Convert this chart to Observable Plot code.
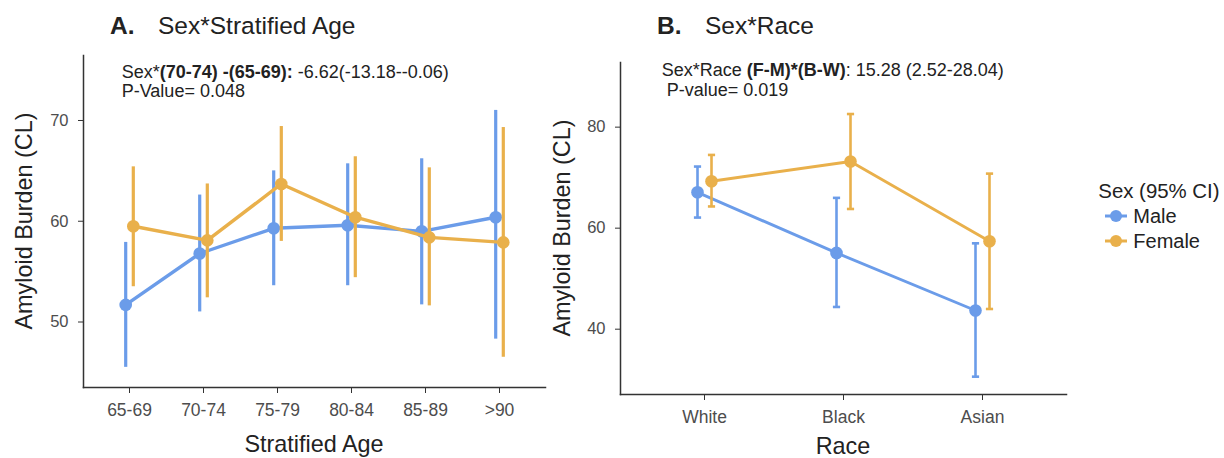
<!DOCTYPE html>
<html>
<head>
<meta charset="utf-8">
<script src="https://cdn.jsdelivr.net/npm/d3@7"></script>
<script src="https://cdn.jsdelivr.net/npm/@observablehq/plot@0.6"></script>
<style>
  html, body { margin: 0; padding: 0; background: #fff; }
  #wrap { position: relative; width: 1224px; height: 458px; overflow: hidden; font-family: "Liberation Sans", Arial, Helvetica, sans-serif; color: #222; }
  .abs { position: absolute; white-space: nowrap; line-height: 1; }
  .panel { position: absolute; top: 0; }
  .ytitle { position: absolute; white-space: nowrap; line-height: 1; font-size: 23.4px; color: #222; transform: translate(-50%, -50%) rotate(-90deg); }
  .xtitle { position: absolute; white-space: nowrap; line-height: 1; font-size: 23.4px; color: #222; transform: translateX(-50%); }
  .title { font-size: 24.5px; color: #222; }
  .note { font-size: 18px; line-height: 19.5px; color: #222; }
  .leg { font-size: 20px; color: #222; }
</style>
</head>
<body>
<div id="wrap">
  <div id="panelA" class="panel" style="left:0px"></div>
  <div id="panelB" class="panel" style="left:560px"></div>

  <div class="abs title" style="left:110px; top:13.6px"><b>A.</b></div>
  <div class="abs title" style="left:158px; top:13.6px">Sex*Stratified Age</div>
  <div class="abs title" style="left:657px; top:13.8px"><b>B.</b></div>
  <div class="abs title" style="left:705px; top:13.8px">Sex*Race</div>

  <div class="abs note" style="left:121.7px; top:62.6px">Sex*<b>(70-74) -(65-69):</b> -6.62(-13.18--0.06)<br>P-Value= 0.048</div>
  <div class="abs note" style="left:661.7px; top:61px">Sex*Race <b>(F-M)*(B-W)</b>: 15.28 (2.52-28.04)<br>&nbsp;P-value= 0.019</div>

  <div class="ytitle" style="left:25px; top:221px">Amyloid Burden (CL)</div>
  <div class="ytitle" style="left:563px; top:228px">Amyloid Burden (CL)</div>
  <div class="xtitle" style="left:314px; top:432.5px">Stratified Age</div>
  <div class="xtitle" style="left:843px; top:434.5px">Race</div>

  <div id="legend"></div>
</div>
<script>
// ---------- data ----------
const ageGroups = ["65-69", "70-74", "75-79", "80-84", "85-89", ">90"];
const maleAgeMean  = [51.7, 56.8, 59.3, 59.6, 59.0, 60.4];
const maleAgeLow   = [45.5, 51.0, 53.6, 53.6, 51.7, 48.3];
const maleAgeHigh  = [57.9, 62.6, 65.0, 65.7, 66.2, 71.0];
const femaleAgeMean = [59.5, 58.1, 63.7, 60.4, 58.4, 57.9];
const femaleAgeLow  = [53.5, 52.4, 58.0, 54.4, 51.6, 46.5];
const femaleAgeHigh = [65.4, 63.7, 69.4, 66.4, 65.3, 69.3];
const ageTicks = [50, 60, 70];

const races = ["White", "Black", "Asian"];
const maleRaceMean  = [67.1, 55.1, 43.7];
const maleRaceLow   = [62.1, 44.4, 30.6];
const maleRaceHigh  = [72.2, 66.0, 57.0];
const femaleRaceMean = [69.3, 73.2, 57.4];
const femaleRaceLow  = [64.3, 63.8, 44.0];
const femaleRaceHigh = [74.5, 82.6, 70.8];
const raceTicks = [40, 60, 80];

const sexes = ["Male", "Female"];
const sexColors = ["#6b9ce9", "#e9b04b"];

// ---------- build tables ----------
function table(cats, mean, low, high, sex) {
  return cats.map((c, i) => ({cat: c, mean: mean[i], low: low[i], high: high[i], sex}));
}
const ageMale = table(ageGroups, maleAgeMean, maleAgeLow, maleAgeHigh, "Male");
const ageFemale = table(ageGroups, femaleAgeMean, femaleAgeLow, femaleAgeHigh, "Female");
const raceMale = table(races, maleRaceMean, maleRaceLow, maleRaceHigh, "Male");
const raceFemale = table(races, femaleRaceMean, femaleRaceLow, femaleRaceHigh, "Female");

const font = "'Liberation Sans', Arial, Helvetica, sans-serif";
const axisStroke = "#333333";
const labelFill = "#4d4d4d";

// horizontal-line symbol used for error-bar caps
const capSymbol = {
  draw(context, size) {
    const h = Math.sqrt(size / Math.PI);
    context.moveTo(-h, 0);
    context.lineTo(h, 0);
  }
};

function seriesMarks(rows, color, dodge, lw, barW, r, cap) {
  const marks = [
    Plot.ruleX(rows, {x: "cat", y1: "low", y2: "high", dx: dodge, stroke: color, strokeWidth: barW}),
  ];
  if (cap) {
    marks.push(Plot.dot(rows, {x: "cat", y: "low", dx: dodge, symbol: capSymbol, r: cap, fill: "none", stroke: color, strokeWidth: barW}));
    marks.push(Plot.dot(rows, {x: "cat", y: "high", dx: dodge, symbol: capSymbol, r: cap, fill: "none", stroke: color, strokeWidth: barW}));
  }
  marks.push(Plot.line(rows, {x: "cat", y: "mean", dx: dodge, stroke: color, strokeWidth: lw}));
  marks.push(Plot.dot(rows, {x: "cat", y: "mean", dx: dodge, r: r, fill: color, stroke: "none"}));
  return marks;
}

function panel({width, height, ml, mr, mt, mb, cats, yDomain, yTicks, male, female, dodge, lw, barW, r, cap}) {
  return Plot.plot({
    width, height,
    marginLeft: ml, marginRight: mr, marginTop: mt, marginBottom: mb,
    style: {fontFamily: font, fontSize: "16px", color: labelFill, background: "transparent", overflow: "visible"},
    x: {type: "point", domain: cats, padding: 0.6, label: null},
    y: {domain: yDomain, label: null},
    r: {type: "identity"},
    marks: [
      Plot.frame({anchor: "left", stroke: axisStroke, strokeWidth: 1.5}),
      Plot.frame({anchor: "bottom", stroke: axisStroke, strokeWidth: 1.5}),
      Plot.axisY({ticks: yTicks, tickSize: 5, tickPadding: 10, fontSize: 16.5, stroke: axisStroke, fill: labelFill, label: null}),
      Plot.axisX({tickSize: 6, tickPadding: 10, fontSize: 17.5, stroke: axisStroke, fill: labelFill, label: null}),
      ...seriesMarks(male, sexColors[0], -dodge, lw, barW, r, cap),
      ...seriesMarks(female, sexColors[1], dodge, lw, barW, r, cap)
    ]
  });
}

document.getElementById("panelA").append(panel({
  width: 560, height: 458, ml: 83, mr: 15, mt: 55, mb: 71,
  cats: ageGroups, yDomain: [43.5, 76.45], yTicks: ageTicks,
  male: ageMale, female: ageFemale, dodge: 3.8, lw: 3.4, barW: 3.2, r: 6.3, cap: 0
}));

document.getElementById("panelB").append(panel({
  width: 520, height: 458, ml: 60, mr: 14, mt: 62, mb: 64,
  cats: races, yDomain: [27.07, 92.8], yTicks: raceTicks,
  male: raceMale, female: raceFemale, dodge: 7, lw: 2.9, barW: 2.6, r: 6.3, cap: 3.6
}));

// ---------- legend ----------
const legend = document.getElementById("legend");
const lt = document.createElement("div");
lt.className = "abs leg";
lt.style.cssText = "left:1098.3px; top:181px; font-size:20.4px";
lt.textContent = "Sex (95% CI)";
legend.append(lt);
sexes.forEach((s, i) => {
  const base = 223.3 + i * 25;
  const svgNS = "http://www.w3.org/2000/svg";
  const svg = document.createElementNS(svgNS, "svg");
  svg.setAttribute("width", 26); svg.setAttribute("height", 16);
  svg.style.cssText = `position:absolute; left:1103px; top:${base - 7 - 8}px`;
  const ln = document.createElementNS(svgNS, "line");
  ln.setAttribute("x1", 2); ln.setAttribute("x2", 24); ln.setAttribute("y1", 8); ln.setAttribute("y2", 8);
  ln.setAttribute("stroke", sexColors[i]); ln.setAttribute("stroke-width", 3);
  const c = document.createElementNS(svgNS, "circle");
  c.setAttribute("cx", 13); c.setAttribute("cy", 8); c.setAttribute("r", 6); c.setAttribute("fill", sexColors[i]);
  svg.append(ln, c);
  legend.append(svg);
  const t = document.createElement("div");
  t.className = "abs leg";
  t.style.cssText = `left:1133.3px; top:${base - 16.9}px`;
  t.textContent = s;
  legend.append(t);
});
</script>
</body>
</html>
